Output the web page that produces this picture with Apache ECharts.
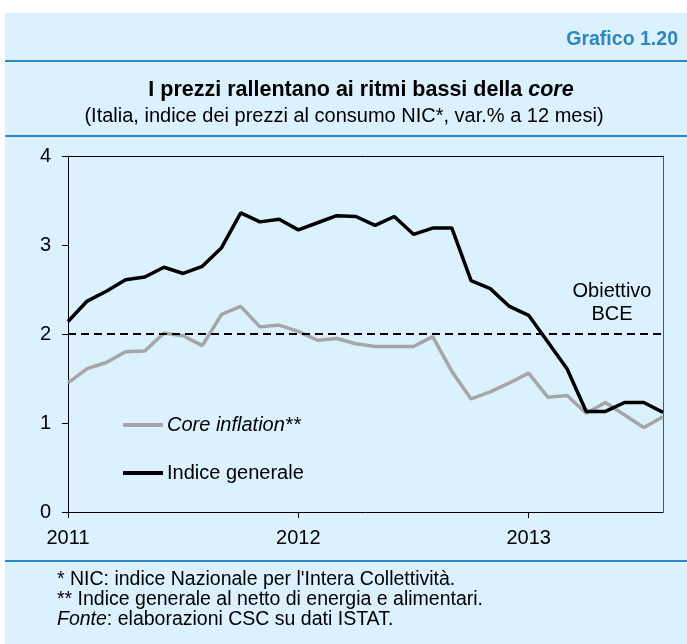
<!DOCTYPE html>
<html><head><meta charset="utf-8">
<script src="https://cdn.jsdelivr.net/npm/echarts@6/dist/echarts.min.js"></script>
<style>html,body{margin:0;padding:0;background:#fff}#c{width:687px;height:644px}</style>
</head><body><div id="c"></div><script>
// Monthly data, Jan 2011 .. Aug 2013 (index 0..31)
const yearLabels = ['2011', '2012', '2013'];
const yTicks = [0, 1, 2, 3, 4];
const indiceGenerale = [2.14, 2.37, 2.48, 2.61, 2.64, 2.75, 2.68, 2.76, 2.97, 3.36, 3.26, 3.29,
  3.17, 3.25, 3.33, 3.32, 3.22, 3.32, 3.12, 3.19, 3.19, 2.60, 2.51, 2.31,
  2.21, 1.91, 1.61, 1.13, 1.13, 1.23, 1.23, 1.12];
const coreInflation = [1.45, 1.61, 1.68, 1.80, 1.81, 2.01, 1.98, 1.87, 2.22, 2.31, 2.08, 2.10,
  2.03, 1.93, 1.95, 1.89, 1.86, 1.86, 1.86, 1.97, 1.58, 1.27, 1.35, 1.45,
  1.56, 1.29, 1.31, 1.11, 1.23, 1.09, 0.95, 1.07];
const targetBCE = 2;
const seriesNames = ['Core inflation**', 'Indice generale'];

const FONT = '"Liberation Sans", Arial, sans-serif';
const toPairs = arr => arr.map((v, i) => [i, v]);
const nMonths = indiceGenerale.length - 1;

const chart = echarts.init(document.getElementById('c'), null, {renderer: 'canvas'});
const lineBlue = '#2f88c8';
chart.setOption({
  animation: false,
  backgroundColor: '#ffffff',
  textStyle: {fontFamily: FONT},
  graphic: [
    {type: 'rect', z: -10, shape: {x: 5, y: 13, width: 682, height: 631}, style: {fill: '#dbf1fd'}},
    {type: 'rect', shape: {x: 5, y: 60, width: 682, height: 2}, style: {fill: lineBlue}},
    {type: 'rect', shape: {x: 5, y: 135, width: 682, height: 2}, style: {fill: lineBlue}},
    {type: 'rect', shape: {x: 5, y: 560, width: 682, height: 2}, style: {fill: lineBlue}},
    {type: 'text', x: 678, y: 39, scaleX: 0.93, style: {text: 'Grafico 1.20', align: 'right', verticalAlign: 'middle',
      font: 'bold 21px ' + FONT, fill: '#2e86c1'}},
    {type: 'text', x: 361, y: 90, style: {
      text: '{b|I prezzi rallentano ai ritmi bassi della }{bi|core}', align: 'center', verticalAlign: 'middle',
      rich: {b: {fontFamily: FONT, fontWeight: 'bold', fontSize: 21.5, fill: '#000'},
             bi: {fontFamily: FONT, fontWeight: 'bold', fontStyle: 'italic', fontSize: 21.5, fill: '#000'}}}},
    {type: 'text', x: 344, y: 116, style: {text: '(Italia, indice dei prezzi al consumo NIC*, var.% a 12 mesi)',
      align: 'center', verticalAlign: 'middle', font: '20px ' + FONT, fill: '#000'}},
    {type: 'text', x: 612, y: 291, style: {text: 'Obiettivo', align: 'center', verticalAlign: 'middle', font: '20px ' + FONT, fill: '#000'}},
    {type: 'text', x: 612, y: 314, style: {text: 'BCE', align: 'center', verticalAlign: 'middle', font: '20px ' + FONT, fill: '#000'}},
    {type: 'text', x: 57, y: 580, style: {text: "* NIC: indice Nazionale per l'Intera Collettività.", verticalAlign: 'middle', font: '19.5px ' + FONT, fill: '#000'}},
    {type: 'text', x: 57, y: 600, style: {text: '** Indice generale al netto di energia e alimentari.', verticalAlign: 'middle', font: '19.5px ' + FONT, fill: '#000'}},
    {type: 'text', x: 57, y: 620, style: {
      text: '{i|Fonte}{n|: elaborazioni CSC su dati ISTAT.}', verticalAlign: 'middle',
      rich: {i: {fontFamily: FONT, fontStyle: 'italic', fontSize: 19.5, fill: '#000'},
             n: {fontFamily: FONT, fontSize: 19.5, fill: '#000'}}}}
  ],
  grid: {left: 68, right: 24, top: 156, bottom: 132, containLabel: false},
  legend: {
    orient: 'vertical', left: 118, top: 410, itemWidth: 40, itemHeight: 4, itemGap: 28,
    icon: 'rect', selectedMode: false,
    textStyle: {fontFamily: FONT, fontSize: 20, color: '#000', padding: [0, 0, 0, -1]},
    data: [
      {name: seriesNames[0], textStyle: {fontStyle: 'italic'}},
      {name: seriesNames[1]}
    ]
  },
  xAxis: [{
    type: 'value', min: 0, max: nMonths, interval: 12, position: 'bottom',
    axisLine: {show: true, lineStyle: {color: '#000', width: 1}},
    axisTick: {show: true, length: 6, inside: false, customValues: [0, 12, 24], lineStyle: {color: '#000'}},
    axisLabel: {show: true, margin: 16, fontSize: 20, color: '#000', fontFamily: FONT,
      customValues: [0, 12, 24], formatter: v => yearLabels[Math.round(v / 12)] || ''},
    splitLine: {show: false}
  }, {
    type: 'value', min: 0, max: nMonths, position: 'top',
    axisLine: {show: true, onZero: false, lineStyle: {color: '#000', width: 1}},
    axisTick: {show: false}, axisLabel: {show: false}, splitLine: {show: false}
  }],
  yAxis: [{
    type: 'value', min: yTicks[0], max: yTicks[yTicks.length - 1], interval: 1, position: 'left',
    axisLine: {show: true, lineStyle: {color: '#000', width: 1}},
    axisTick: {show: true, length: 6, inside: false, lineStyle: {color: '#000'}},
    axisLabel: {show: true, margin: 17, fontSize: 20, color: '#000', fontFamily: FONT},
    splitLine: {show: false}
  }, {
    type: 'value', min: yTicks[0], max: yTicks[yTicks.length - 1], position: 'right',
    axisLine: {show: true, onZero: false, lineStyle: {color: '#555', width: 1}},
    axisTick: {show: false}, axisLabel: {show: false}, splitLine: {show: false}
  }],
  series: [
    {
      name: seriesNames[0], type: 'line', data: toPairs(coreInflation), showSymbol: false, symbol: 'none',
      lineStyle: {color: '#a6a6a6', width: 3.5}, itemStyle: {color: '#a6a6a6'}, z: 3,
      markLine: {
        silent: true, symbol: ['none', 'none'], label: {show: false},
        lineStyle: {color: '#000', width: 2, type: [8, 5]},
        data: [{yAxis: targetBCE}]
      }
    },
    {
      name: seriesNames[1], type: 'line', data: toPairs(indiceGenerale), showSymbol: false, symbol: 'none',
      lineStyle: {color: '#000', width: 3.5}, itemStyle: {color: '#000'}, z: 4
    }
  ]
});
</script></body></html>
